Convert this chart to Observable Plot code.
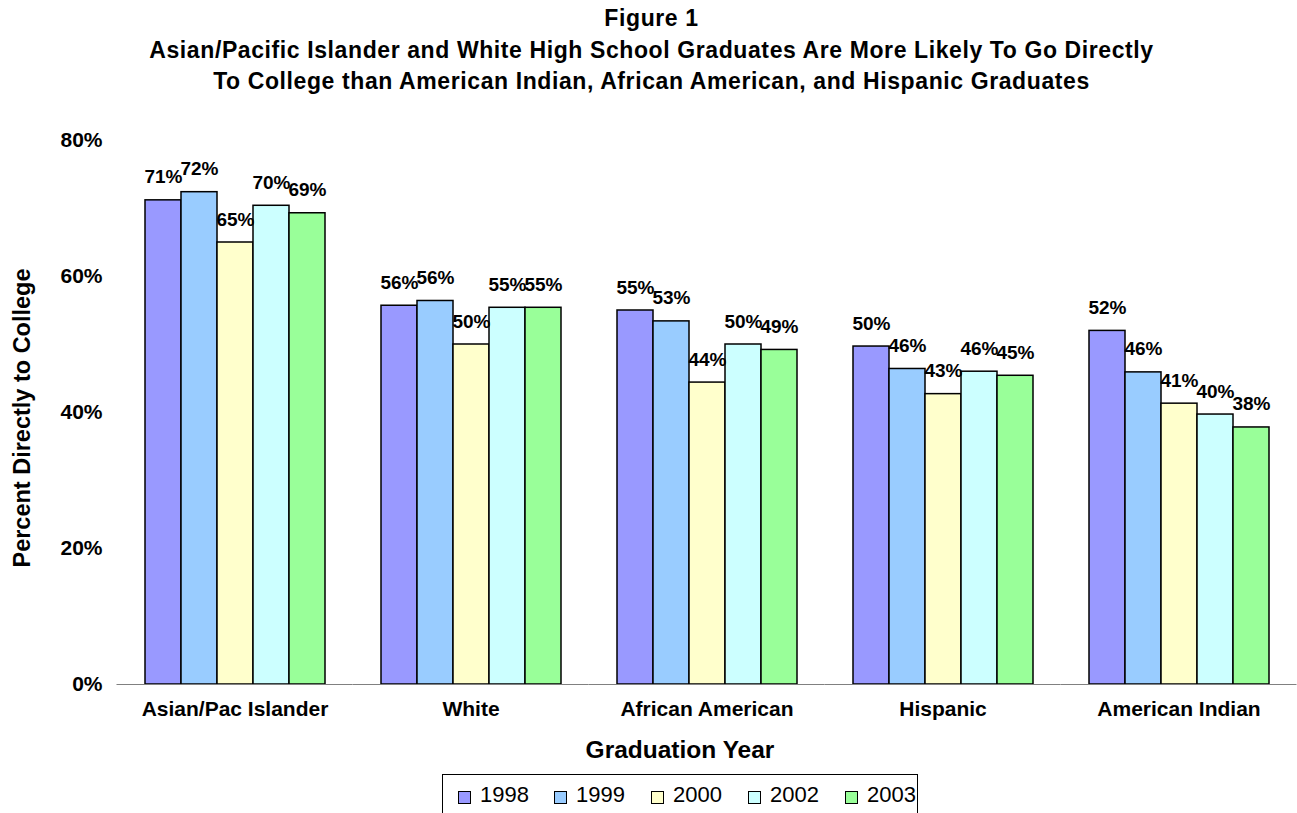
<!DOCTYPE html>
<html>
<head>
<meta charset="utf-8">
<script src="https://cdn.jsdelivr.net/npm/d3@7"></script>
<script src="https://cdn.jsdelivr.net/npm/@observablehq/plot@0.6"></script>
<style>
  html, body { margin: 0; padding: 0; background: #fff; }
  #wrap { position: relative; width: 1297px; height: 813px; overflow: hidden;
          font-family: "Liberation Sans", Arial, sans-serif; color: #000; }
  #title { position: absolute; left: 0; top: 3px; width: 1297px; text-align: center;
           font-weight: bold; font-size: 23px; line-height: 31.5px; letter-spacing: 0.6px;
           padding-left: 6px; box-sizing: border-box; }
  #chart { position: absolute; left: 0; top: 0; }
  #ytitle { position: absolute; left: 22px; top: 418px; transform: translate(-50%, -50%) rotate(-90deg);
            white-space: nowrap; font-weight: bold; font-size: 23.5px; }
  #xtitle { position: absolute; left: 680px; top: 750px; transform: translate(-50%, -50%);
            white-space: nowrap; font-weight: bold; font-size: 24.5px; }
  #legend { position: absolute; left: 442px; top: 774px; width: 476px; height: 44px;
            border: 1px solid #000; box-sizing: border-box; }
  .item { position: absolute; top: 6px; height: 28px; display: flex; align-items: center; font-size: 22px; }
  .sw { width: 11px; height: 11px; border: 1px solid #000; margin-right: 9px; margin-top: 5px; }
</style>
</head>
<body>
<div id="wrap">
  <div id="chart"></div>
  <div id="title">Figure 1<br>Asian/Pacific Islander and White High School Graduates Are More Likely To Go Directly<br>To College than American Indian, African American, and Hispanic Graduates</div>
  <div id="ytitle">Percent Directly to College</div>
  <div id="xtitle">Graduation Year</div>
  <div id="legend"></div>
</div>
<script>
// ---- data ----
const categories = ["Asian/Pac Islander", "White", "African American", "Hispanic", "American Indian"];
const years = ["1998", "1999", "2000", "2002", "2003"];
const asianPac = [71.2, 72.4, 65.0, 70.4, 69.3];
const white = [55.7, 56.4, 50.0, 55.4, 55.4];
const africanAmerican = [55.0, 53.4, 44.4, 50.0, 49.2];
const hispanic = [49.7, 46.4, 42.7, 46.0, 45.4];
const americanIndian = [52.0, 45.9, 41.3, 39.7, 37.8];
const yTicks = [0, 20, 40, 60, 80];
const colors = ["#9999FF", "#99CCFF", "#FFFFCC", "#CCFFFF", "#99FF99"];

const seriesByCategory = [asianPac, white, africanAmerican, hispanic, americanIndian];
const data = [];
categories.forEach((c, i) => years.forEach((yr, j) => data.push({category: c, year: yr, value: seriesByCategory[i][j]})));

const chart = Plot.plot({
  width: 1297,
  height: 770,
  marginLeft: 117,
  marginRight: 0,
  marginTop: 140,
  marginBottom: 86,
  style: {fontFamily: '"Liberation Sans", Arial, sans-serif', color: "#000", background: "transparent"},
  facet: {data, x: "category"},
  fx: {domain: categories, paddingInner: 0.233, paddingOuter: 0.1165, label: null},
  x: {domain: years, padding: 0, axis: null},
  y: {domain: [0, 80], axis: null},
  color: {domain: years, range: colors},
  marks: [
    Plot.barY(data, {x: "year", y: "value", fill: "year", stroke: "#000", strokeWidth: 1.5, inset: 0}),
    Plot.text(data, {x: "year", y: "value", text: d => Math.round(d.value) + "%", lineAnchor: "bottom", dy: -17,
                     fontSize: 19, fontWeight: "bold", fill: "#000"}),
    Plot.ruleY([0], {stroke: "#808080", strokeWidth: 1.2, insetLeft: -27.5, insetRight: -27.5}),
    Plot.axisY({ticks: yTicks, tickFormat: d => d + "%", tickSize: 0, tickPadding: 42, fontSize: 21,
                fontWeight: "bold", label: null}),
    Plot.axisFx({anchor: "bottom", tickSize: 0, tickPadding: 17, fontSize: 21, fontWeight: "bold", label: null})
  ]
});
document.getElementById("chart").appendChild(chart);

// legend
const legend = document.getElementById("legend");
const lefts = [15, 111, 208, 305, 402];
years.forEach((yr, i) => {
  const it = document.createElement("div");
  it.className = "item";
  it.style.left = lefts[i] + "px";
  const sw = document.createElement("span");
  sw.className = "sw";
  sw.style.background = colors[i];
  const t = document.createElement("span");
  t.textContent = yr;
  it.appendChild(sw); it.appendChild(t);
  legend.appendChild(it);
});
</script>
</body>
</html>
